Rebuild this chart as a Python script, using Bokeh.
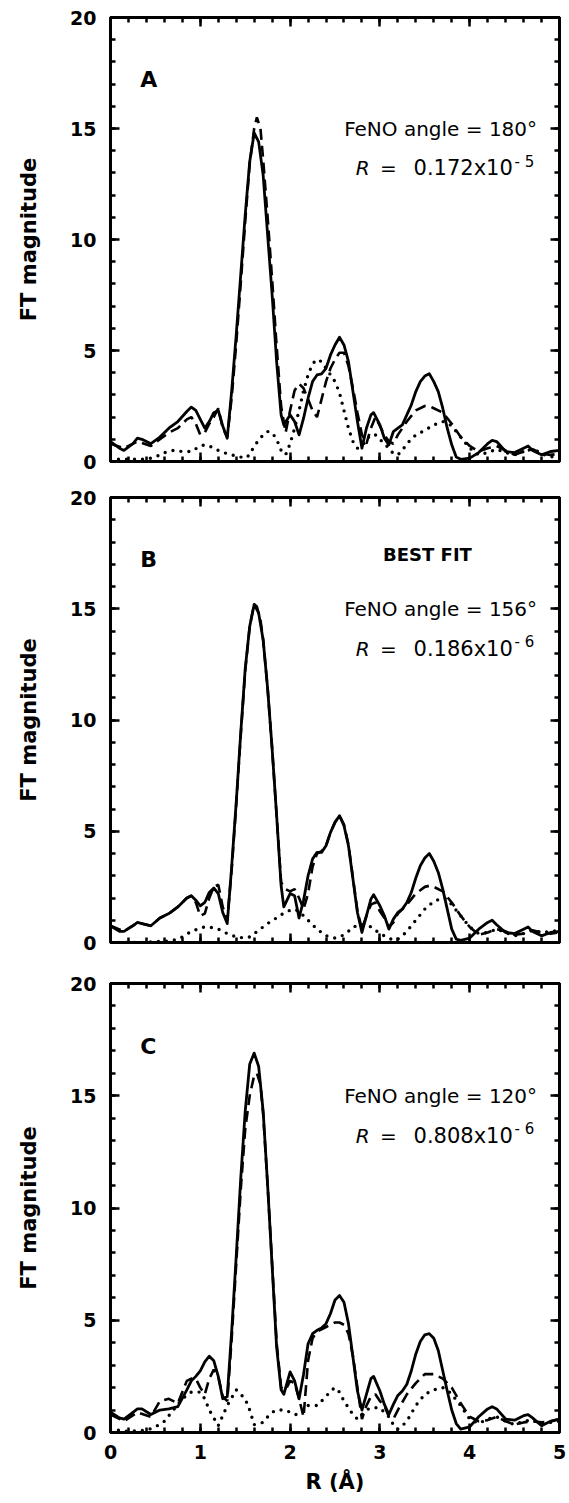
from bokeh.plotting import figure
from bokeh.models import Range1d, LinearAxis, FixedTicker, Label
from bokeh.layouts import column
from bokeh.embed import file_html
from bokeh.resources import INLINE

# ---------------- data ----------------
R_SOLID = [0, 0.1, 0.15, 0.25, 0.3, 0.35, 0.45, 0.55, 0.65, 0.75,
           0.85, 0.9, 0.95, 1.0, 1.05, 1.1, 1.15, 1.2, 1.25, 1.3,
           1.35, 1.4, 1.45, 1.5, 1.55, 1.6, 1.65, 1.7, 1.75, 1.8,
           1.85, 1.9, 1.93, 2.0, 2.05, 2.1, 2.15, 2.2, 2.25, 2.3,
           2.35, 2.4, 2.45, 2.5, 2.55, 2.6, 2.65, 2.7, 2.75, 2.8,
           2.85, 2.9, 2.93, 3.0, 3.05, 3.1, 3.15, 3.2, 3.25, 3.3,
           3.35, 3.4, 3.45, 3.5, 3.55, 3.6, 3.65, 3.7, 3.75, 3.8,
           3.85, 3.9, 4.0, 4.1, 4.2, 4.25, 4.3, 4.4, 4.5, 4.6,
           4.65, 4.7, 4.8, 4.9, 5.0]

R_FIT = [0, 0.15, 0.3, 0.45, 0.55, 0.65, 0.75, 0.85, 0.9, 0.95,
         1.0, 1.05, 1.1, 1.15, 1.2, 1.25, 1.3, 1.35, 1.4, 1.45,
         1.5, 1.55, 1.6, 1.63, 1.67, 1.7, 1.75, 1.8, 1.85, 1.9,
         1.95, 2.0, 2.05, 2.1, 2.15, 2.2, 2.25, 2.3, 2.35, 2.4,
         2.45, 2.5, 2.55, 2.6, 2.65, 2.7, 2.75, 2.8, 2.85, 2.9,
         2.95, 3.0, 3.05, 3.1, 3.15, 3.2, 3.3, 3.4, 3.5, 3.55,
         3.6, 3.7, 3.8, 3.9, 4.0, 4.1, 4.2, 4.3, 4.4, 4.5,
         4.6, 4.7, 4.8, 4.9, 5.0]

R_DOT = [0, 0.2, 0.4, 0.5, 0.6, 0.7, 0.8, 0.9, 1.0, 1.05,
         1.1, 1.2, 1.3, 1.4, 1.5, 1.55, 1.6, 1.7, 1.75, 1.8,
         1.85, 1.9, 1.95, 2.0, 2.05, 2.1, 2.15, 2.2, 2.25, 2.3,
         2.35, 2.4, 2.45, 2.5, 2.55, 2.6, 2.65, 2.7, 2.75, 2.8,
         2.85, 2.9, 2.95, 3.0, 3.1, 3.15, 3.2, 3.25, 3.3, 3.4,
         3.5, 3.6, 3.7, 3.75, 3.8, 3.9, 4.0, 4.1, 4.2, 4.3,
         4.4, 4.5, 4.6, 4.7, 4.8, 4.9, 5.0]

# Panel A (FeNO angle 180)
A_EXP = [0.9, 0.6, 0.5, 0.8, 1.05, 1.0, 0.8, 1.1, 1.5, 1.8,
         2.25, 2.45, 2.3, 1.9, 1.5, 1.8, 2.2, 2.3, 1.6, 1.05,
         3.2, 5.7, 8.4, 11.1, 13.5, 14.8, 14.4, 12.9, 10.2, 7.5,
         4.5, 2.1, 1.65, 2.1, 1.8, 1.2, 1.95, 2.85, 3.6, 3.9,
         3.95, 4.2, 4.8, 5.25, 5.6, 5.25, 4.5, 3.15, 1.8, 0.6,
         1.5, 2.1, 2.2, 1.65, 1.05, 0.75, 1.35, 1.5, 1.65, 2.1,
         2.55, 3.15, 3.6, 3.85, 3.95, 3.6, 3.15, 2.4, 1.5, 0.75,
         0.2, 0.1, 0.15, 0.4, 0.8, 0.95, 0.9, 0.45, 0.4, 0.6,
         0.7, 0.5, 0.3, 0.45, 0.5]
A_FIT = [0.8, 0.6, 0.9, 0.7, 1.0, 1.3, 1.5, 1.9, 2.0, 1.7,
         1.2, 1.3, 1.7, 2.0, 2.4, 1.5, 1.1, 2.9, 5.3, 8.0,
         10.8, 13.4, 15.0, 15.5, 15.0, 13.6, 11.0, 8.2, 5.2, 2.5,
         1.3, 2.3, 3.2, 3.5, 3.3, 2.8, 2.3, 2.0, 2.8, 3.6,
         4.2, 4.6, 4.9, 4.9, 4.3, 3.3, 2.2, 1.2, 0.8, 1.5,
         2.0, 1.6, 1.2, 0.9, 0.8, 1.2, 1.8, 2.3, 2.5, 2.5,
         2.4, 2.2, 1.7, 1.1, 0.7, 0.45, 0.6, 0.7, 0.5, 0.3,
         0.45, 0.55, 0.35, 0.3, 0.35]
A_DOT = [0.1, 0.1, 0.1, 0.2, 0.4, 0.5, 0.45, 0.45, 0.7, 0.75,
         0.7, 0.5, 0.35, 0.25, 0.15, 0.3, 0.7, 1.2, 1.35, 1.3,
         1.0, 0.5, 0.3, 0.8, 1.5, 2.3, 3.2, 3.9, 4.4, 4.6,
         4.5, 4.2, 3.9, 3.6, 3.1, 2.3, 1.5, 0.9, 0.6, 0.7,
         1.0, 1.2, 1.2, 1.0, 0.6, 0.35, 0.3, 0.5, 0.8, 1.2,
         1.4, 1.65, 1.8, 1.75, 1.6, 1.1, 0.6, 0.3, 0.4, 0.55,
         0.4, 0.3, 0.45, 0.6, 0.35, 0.2, 0.3]

# Panel B (FeNO angle 156, best fit)
B_EXP = [0.75, 0.5, 0.5, 0.75, 0.9, 0.85, 0.75, 1.1, 1.3, 1.6,
         2.0, 2.1, 1.9, 1.65, 1.8, 2.25, 2.45, 2.2, 1.35, 0.85,
         3.45, 6.3, 9.4, 12.3, 14.2, 15.2, 14.8, 13.6, 11.4, 8.7,
         5.7, 2.55, 1.6, 2.2, 2.1, 1.1, 1.9, 3.0, 3.75, 4.05,
         4.05, 4.35, 4.95, 5.4, 5.7, 5.25, 4.35, 2.85, 1.35, 0.45,
         1.2, 1.95, 2.15, 1.65, 1.2, 0.6, 1.05, 1.35, 1.5, 1.8,
         2.25, 2.9, 3.45, 3.8, 4.0, 3.65, 3.15, 2.4, 1.5, 0.6,
         0.15, 0.1, 0.2, 0.6, 0.9, 1.0, 0.8, 0.45, 0.4, 0.6,
         0.7, 0.5, 0.3, 0.45, 0.5]
B_FIT = [0.75, 0.5, 0.9, 0.75, 1.1, 1.3, 1.6, 2.0, 2.1, 1.8,
         1.2, 1.3, 2.0, 2.5, 2.6, 1.6, 1.0, 3.3, 6.2, 9.3,
         12.2, 14.2, 15.2, 15.1, 14.5, 13.6, 11.4, 8.7, 5.7, 2.7,
         2.4, 2.3, 2.4, 2.0, 1.5, 2.2, 3.4, 4.0, 4.1, 4.35,
         4.95, 5.4, 5.7, 5.3, 4.4, 2.9, 1.4, 0.6, 1.2, 1.7,
         1.8, 1.4, 1.1, 0.7, 0.9, 1.3, 1.7, 2.2, 2.5, 2.55,
         2.5, 2.3, 1.8, 1.2, 0.7, 0.35, 0.45, 0.6, 0.5, 0.35,
         0.4, 0.55, 0.45, 0.4, 0.45]
B_DOT = [0.0, 0.0, 0.0, 0.05, 0.05, 0.1, 0.25, 0.5, 0.65, 0.7,
         0.7, 0.6, 0.4, 0.25, 0.2, 0.25, 0.4, 0.7, 0.85, 1.0,
         1.1, 1.25, 1.35, 1.45, 1.5, 1.4, 1.2, 1.0, 0.8, 0.6,
         0.45, 0.3, 0.25, 0.2, 0.25, 0.35, 0.5, 0.7, 0.75, 0.8,
         0.8, 0.7, 0.55, 0.4, 0.2, 0.1, 0.15, 0.3, 0.5, 1.0,
         1.5, 1.85, 2.0, 1.95, 1.7, 1.2, 0.7, 0.4, 0.45, 0.6,
         0.45, 0.3, 0.4, 0.55, 0.45, 0.5, 0.55]

# Panel C (FeNO angle 120)
C_EXP = [0.9, 0.65, 0.6, 0.9, 1.05, 1.05, 0.8, 1.0, 1.05, 1.15,
         1.9, 2.3, 2.5, 2.75, 3.15, 3.4, 3.2, 2.5, 1.5, 1.6,
         4.55, 7.85, 11.3, 14.3, 16.4, 16.9, 16.3, 14.3, 11.0, 7.4,
         3.8, 1.9, 1.7, 2.7, 2.3, 1.5, 2.6, 3.95, 4.4, 4.55,
         4.65, 4.85, 5.3, 5.9, 6.1, 5.8, 4.85, 3.35, 1.85, 1.0,
         1.7, 2.4, 2.5, 1.85, 1.25, 0.8, 1.25, 1.65, 1.85, 2.15,
         2.75, 3.5, 4.05, 4.35, 4.4, 4.2, 3.65, 2.75, 1.85, 1.0,
         0.4, 0.15, 0.25, 0.7, 1.05, 1.15, 1.05, 0.6, 0.55, 0.75,
         0.8, 0.65, 0.3, 0.5, 0.6]
C_FIT = [0.8, 0.5, 0.9, 0.7, 1.4, 1.5, 1.3, 2.3, 2.4, 2.4,
         2.0, 1.7, 2.4, 2.8, 2.5, 1.6, 1.4, 4.2, 7.5, 10.8,
         13.5, 15.0, 15.9, 16.0, 15.5, 14.2, 11.0, 7.5, 4.0, 2.0,
         1.9, 2.3, 2.2, 1.5, 0.7, 3.2, 4.2, 4.5, 4.6, 4.7,
         4.8, 4.9, 4.9, 4.8, 4.4, 3.4, 2.0, 0.6, 1.2, 1.6,
         1.7, 1.4, 1.2, 0.7, 0.6, 1.0, 1.7, 2.2, 2.6, 2.6,
         2.6, 2.4, 2.0, 1.3, 0.7, 0.5, 0.55, 0.7, 0.5, 0.35,
         0.45, 0.5, 0.45, 0.5, 0.6]
C_DOT = [0.15, 0.05, 0.1, 0.25, 0.5, 1.0, 1.5, 1.8, 1.8, 1.5,
         1.0, 0.3, 1.2, 1.9, 1.5, 1.0, 0.35, 0.45, 0.7, 0.9,
         1.0, 1.0, 1.0, 0.9, 0.8, 0.8, 1.0, 1.2, 1.2, 1.2,
         1.4, 1.6, 1.85, 2.0, 1.8, 1.4, 1.1, 0.8, 0.6, 0.8,
         1.0, 1.1, 1.1, 1.1, 0.7, 0.35, 0.15, 0.3, 0.5, 1.2,
         1.7, 1.9, 2.0, 1.9, 1.7, 1.2, 0.6, 0.4, 0.6, 0.7,
         0.5, 0.35, 0.5, 0.55, 0.4, 0.45, 0.5]

PANELS = ["A", "B", "C"]
ANGLES = ["180", "156", "120"]
R_FACTORS = ["0.172x10", "0.186x10", "0.808x10"]
R_EXPONENTS = ["5", "6", "6"]
X_TICKS = [0, 1, 2, 3, 4, 5]
X_MINOR = [round(i * 0.2, 2) for i in range(26)]
Y_TICKS = [0, 5, 10, 15, 20]
Y_MINOR = list(range(21))

FONT = "DejaVu Sans"


def tick_style(ax):
    ax.major_tick_in = 9
    ax.major_tick_out = 0
    ax.minor_tick_in = 5
    ax.minor_tick_out = 0
    ax.major_tick_line_width = 2.5
    ax.minor_tick_line_width = 2.5
    ax.major_tick_line_color = "black"
    ax.minor_tick_line_color = "black"
    ax.axis_line_width = 3
    ax.axis_line_color = "black"


def labelled_axis(ax, major, minor):
    ax.ticker = FixedTicker(ticks=major, minor_ticks=minor)
    tick_style(ax)
    ax.major_label_text_font = FONT
    ax.major_label_text_font_style = "bold"
    ax.major_label_text_font_size = "19px"
    ax.major_label_text_color = "black"


def bare_axes(p, side, major, minor):
    # two label-free axes: short ticks everywhere, long ticks at the majors
    a1 = LinearAxis(ticker=FixedTicker(ticks=[], minor_ticks=minor))
    tick_style(a1)
    a2 = LinearAxis(ticker=FixedTicker(ticks=[], minor_ticks=major))
    tick_style(a2)
    a2.minor_tick_in = 9
    a2.axis_line_alpha = 0
    p.add_layout(a1, side)
    p.add_layout(a2, side)


def make_panel(idx, exp, fit, dot, height, top, bottom, show_x):
    p = figure(width=568, height=height, output_backend="svg",
               toolbar_location=None, x_range=Range1d(0, 5),
               y_range=Range1d(0, 20), x_axis_location=None,
               y_axis_location=None,
               min_border_left=110, min_border_right=9,
               min_border_top=top, min_border_bottom=bottom)
    p.grid.visible = False
    p.outline_line_color = "black"
    p.outline_line_width = 3
    p.background_fill_color = "white"
    p.border_fill_color = "white"

    left = LinearAxis()
    labelled_axis(left, Y_TICKS, Y_MINOR)
    left.major_label_standoff = 14
    left.axis_label = "FT magnitude"
    left.axis_label_text_font = FONT
    left.axis_label_text_font_style = "bold"
    left.axis_label_text_font_size = "21px"
    left.axis_label_text_color = "black"
    left.axis_label_standoff = 26
    p.add_layout(left, "left")

    if show_x:
        below = LinearAxis()
        labelled_axis(below, X_TICKS, X_MINOR)
        below.major_label_standoff = 12
        below.axis_label = "R (Å)"
        below.axis_label_text_font = FONT
        below.axis_label_text_font_style = "bold"
        below.axis_label_text_font_size = "21px"
        below.axis_label_text_color = "black"
        below.axis_label_standoff = 8
        p.add_layout(below, "below")
    else:
        bare_axes(p, "below", X_TICKS, X_MINOR)
    bare_axes(p, "above", X_TICKS, X_MINOR)
    bare_axes(p, "right", Y_TICKS, Y_MINOR)

    p.line(R_DOT, dot, line_color="black", line_width=3.4,
           line_dash="0 8", line_cap="round")
    p.line(R_FIT, fit, line_color="black", line_width=2.6,
           line_dash="11 6")
    p.line(R_SOLID, exp, line_color="black", line_width=2.8,
           line_join="round")

    p.add_layout(Label(x=0.33, y=17.2, text=PANELS[idx], text_font=FONT,
                       text_font_style="bold", text_font_size="22px",
                       text_baseline="middle", text_color="black"))
    p.add_layout(Label(x=4.75, y=15.0, text="FeNO angle = " + ANGLES[idx] + "°",
                       text_font=FONT, text_font_size="20px",
                       text_align="right", text_baseline="middle",
                       text_color="black"))
    p.add_layout(Label(x=2.73, y=13.2, text="R", text_font=FONT,
                       text_font_style="italic", text_font_size="20px",
                       text_align="left", text_baseline="middle",
                       text_color="black"))
    p.add_layout(Label(x=3.0, y=13.2, text="=", text_font=FONT,
                       text_font_size="20px", text_align="left",
                       text_baseline="middle", text_color="black"))
    p.add_layout(Label(x=4.48, y=13.2, text=R_FACTORS[idx],
                       text_font=FONT, text_font_size="21px",
                       text_align="right", text_baseline="middle",
                       text_color="black"))
    p.add_layout(Label(x=4.5, y=13.5, text="- " + R_EXPONENTS[idx],
                       text_font=FONT, text_font_size="15px",
                       text_align="left", text_baseline="middle",
                       text_color="black"))
    if idx == 1:
        p.add_layout(Label(x=3.53, y=17.45, text="BEST FIT", text_font=FONT,
                           text_font_style="bold", text_font_size="18px",
                           text_align="center", text_baseline="middle",
                           text_color="black"))
    return p


pA = make_panel(0, A_EXP, A_FIT, A_DOT, 479, 17, 18, False)
pB = make_panel(1, B_EXP, B_FIT, B_DOT, 483, 18, 20, False)
pC = make_panel(2, C_EXP, C_FIT, C_DOT, 540, 21, 70, True)

layout = column(pA, pB, pC, spacing=0)
open("out.html", "w").write(file_html(layout, INLINE))
